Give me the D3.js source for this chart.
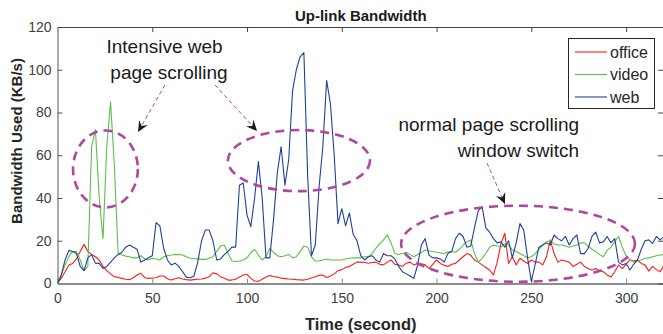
<!DOCTYPE html>
<html>
<head>
<meta charset="utf-8">
<script src="https://cdn.jsdelivr.net/npm/d3@7"></script>
<style>
  html, body { margin: 0; padding: 0; background: #fff; }
  svg { display: block; font-family: "Liberation Sans", Arial, sans-serif; }
  .tick text { fill: #404040; font-size: 14px; }
  .legend text { fill: #262626; font-size: 16px; }
  .note { fill: #1a1a1a; font-size: 19px; }
</style>
</head>
<body>
<div id="chart"></div>
<script>
// sampling step of the traces (seconds)
const step = 2;
const seriesNames = ['office', 'video', 'web'];
const xTicks = [0, 50, 100, 150, 200, 250, 300];
const yTicks = [0, 20, 40, 60, 80, 100, 120];

// office (KB/s), t = 0, 2, 4 ... 320
const office = [
  0, 2.5, 5.5, 8.7, 9.4, 11.5, 15, 18.3, 15, 13.6,
  12.5, 11, 8, 6, 4.5, 3.2, 2.8, 2.4, 2, 1.8,
  2.7, 4, 4.8, 2.7, 2.4, 2.6, 2.7, 3.5, 3.5, 2.2,
  1.6, 2.2, 2.7, 2.1, 1.8, 1.6, 1.8, 2, 2.1, 2.5,
  3.2, 5, 4.5, 3.2, 2.4, 1.6, 1.6, 2, 3, 4,
  4.3, 2.4, 1.2, 1, 2, 3, 3.7, 3.3, 3, 2.5,
  2.3, 2.1, 2, 1.8, 1.7, 1.6, 2, 2.6, 3.2, 3.8,
  4, 2.8, 3.5, 4.5, 6, 6.5, 7.5, 8, 9, 10,
  10, 9.8, 9.5, 9.8, 10, 9, 8.7, 10, 11, 9,
  8.7, 8, 9.5, 10, 8.7, 9.4, 9.2, 8.7, 7, 9,
  11, 9.4, 8.5, 8, 9, 9.4, 11, 12.5, 14, 13.3,
  11, 10, 8.7, 7.5, 6.3, 4, 10, 18.8, 23.5, 9.4,
  12.5, 8.7, 11.8, 10.5, 9.4, 11, 10, 10, 8.7, 12.5,
  20.4, 14, 10, 11, 10.5, 10, 8, 9, 10, 8,
  7, 6.3, 7, 6, 5.5, 4, 3, 5.5, 8.7, 7,
  9, 11, 10.5, 11, 9.4, 8.7, 5.8, 8, 6.5, 5.5,
  8.7
];

// video (KB/s)
const video = [
  0, 4, 8.7, 12.5, 15, 15, 11, 6, 8, 64,
  72, 40, 21, 64, 85, 55, 14, 13.3, 12.8, 12.5,
  12, 12, 13, 11.5, 11, 11.8, 11.5, 11, 12.5, 13,
  13.3, 13.6, 13.5, 13.3, 12.5, 11.8, 11.6, 11.5, 11.3, 11.3,
  11.8, 12.5, 15, 17.5, 18, 14, 10.5, 10.3, 10.5, 11,
  12, 14.5, 16, 13.3, 11, 12.5, 16.5, 14.5, 13, 12.5,
  13, 13.6, 12, 12.5, 15, 17.5, 17, 12.5, 10.5, 10.5,
  11, 11.5, 11, 11, 11, 11, 11.5, 11.8, 12, 12,
  12, 12.5, 12.5, 14, 16.5, 18.5, 20.4, 22.7, 19, 14,
  13.6, 14, 14.6, 13.5, 12.5, 13.6, 14.5, 15.7, 15.3, 15,
  14.6, 14.3, 14, 14.8, 15, 14.6, 16, 18, 19.5, 20.4,
  14, 10, 11.8, 14, 17, 18, 17.5, 17, 18.5, 18,
  15.7, 15, 14, 13, 12, 12.5, 14, 16, 18, 19.5,
  20, 18.5, 18, 18, 17.5, 17, 17.5, 18, 19, 19,
  17.5, 16, 15, 13.5, 12.5, 15.5, 17, 19.5, 22, 17,
  13, 11, 10, 10.5, 11, 11.8, 12, 12.5, 13, 13.3,
  13.6
];

// web (KB/s)
const web = [
  0, 4, 11, 15.5, 15, 14, 8, 6, 12, 13.5,
  9.5, 9.4, 7, 8, 10, 12, 13.6, 14.6, 17, 18,
  17, 16, 10, 11, 12, 13, 28.5, 27, 16.5, 11,
  8.7, 9.5, 8, 5.5, 3, 2.7, 3.5, 10, 20, 25,
  25, 20, 11, 11.5, 13.5, 15, 17, 17, 46, 47,
  32, 26.6, 40, 57, 40, 12, 12, 30, 52, 64,
  46, 58, 90, 100, 106, 108, 50, 13, 18, 45,
  64, 95, 84, 60, 28, 35, 27, 33, 23, 20,
  13, 11, 12.5, 13, 11, 10, 14, 13, 13, 11.5,
  8, 5.5, 4.5, 3.5, 2.4, 8.7, 18, 21, 13.3, 12,
  12, 11.5, 10, 14, 15, 21, 23.5, 22, 17, 17.5,
  26, 34, 36, 26, 24, 21, 19, 19.5, 17, 20,
  12, 19, 28, 25, 12, 1, 9, 17, 18, 19,
  18, 22.7, 21, 20, 22, 18, 21, 22.7, 14, 14,
  16.5, 22, 24, 19, 19.5, 22, 19, 21, 10, 8.7,
  9.4, 6.3, 9, 11, 16, 20, 20.4, 18.8, 22, 20.4,
  22
];

const W = 663, H = 334;
const margin = { top: 27, right: -1, bottom: 50.5, left: 57.5 };
const colors = { office: '#ff1a1a', video: '#5cbf45', web: '#1f3f9e' };
const noteColor = '#b0479f';

const svg = d3.select('#chart').append('svg')
  .attr('width', W)
  .attr('height', H);

const x = d3.scaleLinear().domain([0, 320]).range([margin.left, W - margin.right]);
const y = d3.scaleLinear().domain([0, 120]).range([H - margin.bottom, margin.top]);

const table = { office, video, web };

svg.append('clipPath').attr('id', 'plot-clip')
  .append('rect')
  .attr('x', x(0)).attr('y', y(120))
  .attr('width', x(320) - x(0)).attr('height', y(0) - y(120));

// --- Axes (MATLAB-like box, ticks inside) ---
const xAxis = svg.append('g')
  .attr('class', 'x-axis')
  .attr('transform', `translate(0,${y(0)})`)
  .call(d3.axisBottom(x).tickValues(xTicks).tickSizeInner(-5).tickSizeOuter(0).tickPadding(10));
xAxis.select('.domain').attr('stroke', '#8c8c8c').attr('stroke-width', 2);
xAxis.selectAll('.tick line').attr('stroke', '#8c8c8c');

const yAxis = svg.append('g')
  .attr('class', 'y-axis')
  .attr('transform', `translate(${x(0)},0)`)
  .call(d3.axisLeft(y).tickValues(yTicks).tickSizeInner(-5).tickSizeOuter(0).tickPadding(6));
yAxis.select('.domain').attr('stroke', '#555');
yAxis.selectAll('.tick line').attr('stroke', '#555');
yAxis.selectAll('.tick').filter(d => d === 0).select('line').remove();

// top and right mirrored ticks
const topAxis = svg.append('g')
  .attr('transform', `translate(0,${y(120)})`)
  .call(d3.axisTop(x).tickValues(xTicks).tickSizeInner(-5).tickSizeOuter(0).tickFormat(''));
topAxis.select('.domain').attr('stroke', '#444');
topAxis.selectAll('.tick line').attr('stroke', '#444');
topAxis.selectAll('.tick').filter(d => d === 0).remove();

const rightAxis = svg.append('g')
  .attr('transform', `translate(${x(320) - 1},0)`)
  .call(d3.axisRight(y).tickValues(yTicks).tickSizeInner(-5).tickSizeOuter(0).tickFormat(''));
rightAxis.select('.domain').attr('stroke', '#444');
rightAxis.selectAll('.tick line').attr('stroke', '#444');

// --- Lines ---
const line = d3.line()
  .x((d, i) => x(i * step))
  .y(d => y(d));

const plot = svg.append('g').attr('clip-path', 'url(#plot-clip)');
seriesNames.forEach(name => {
  plot.append('path')
    .datum(table[name])
    .attr('fill', 'none')
    .attr('stroke', colors[name])
    .attr('stroke-width', 1.1)
    .attr('stroke-linejoin', 'round')
    .attr('d', line);
});

// --- Titles ---
svg.append('text')
  .attr('x', (x(0) + x(320)) / 2)
  .attr('y', 20.5)
  .attr('text-anchor', 'middle')
  .attr('font-size', 15)
  .attr('font-weight', 'bold')
  .attr('fill', '#1a1a1a')
  .text('Up-link Bandwidth');

svg.append('text')
  .attr('x', (x(0) + x(320)) / 2)
  .attr('y', 330)
  .attr('text-anchor', 'middle')
  .attr('font-size', 16.5)
  .attr('font-weight', 'bold')
  .attr('fill', '#262626')
  .text('Time (second)');

svg.append('text')
  .attr('transform', 'translate(21.5,141) rotate(-90)')
  .attr('text-anchor', 'middle')
  .attr('font-size', 15)
  .attr('font-weight', 'bold')
  .attr('fill', '#262626')
  .text('Bandwidth Used (KB/s)');

// --- Legend ---
const legend = svg.append('g').attr('class', 'legend');
legend.append('rect')
  .attr('x', 568.5).attr('y', 38.5)
  .attr('width', 86).attr('height', 70)
  .attr('fill', '#fff')
  .attr('stroke', '#262626')
  .attr('stroke-width', 1);
seriesNames.forEach((name, i) => {
  const ly = 52 + i * 22.5;
  legend.append('line')
    .attr('x1', 575).attr('x2', 607)
    .attr('y1', ly).attr('y2', ly)
    .attr('stroke', colors[name])
    .attr('stroke-width', 1.1);
  legend.append('text')
    .attr('x', 610).attr('y', ly + 5.5)
    .text(name);
});

// --- Annotations ---
const defs = svg.append('defs');
defs.append('marker')
  .attr('id', 'head')
  .attr('markerUnits', 'userSpaceOnUse')
  .attr('viewBox', '-12 -6 14 12')
  .attr('refX', 0).attr('refY', 0)
  .attr('markerWidth', 14).attr('markerHeight', 12)
  .attr('orient', 'auto')
  .append('path')
  .attr('d', 'M0,0 L-11,-5 L-7,0 L-11,5 Z')
  .attr('fill', '#1a1a1a');

// ellipses in data units: [cx, cy, rx, ry]
const ellipses = [
  [25.3, 53.6, 17.1, 18],
  [127.4, 57.5, 37.5, 14.3],
  [243, 18.6, 61.7, 17.8]
];
svg.selectAll('.ring')
  .data(ellipses)
  .enter().append('ellipse')
  .attr('class', 'ring')
  .attr('cx', d => x(d[0]))
  .attr('cy', d => y(d[1]))
  .attr('rx', d => x(d[2]) - x(0))
  .attr('ry', d => y(0) - y(d[3]))
  .attr('fill', 'none')
  .attr('stroke', noteColor)
  .attr('stroke-width', 2.6)
  .attr('stroke-dasharray', '9,6');

// arrows in data units: [t1, v1, t2, v2]
const arrows = [
  [56.7, 92.9, 42.5, 70.9],
  [83.1, 92.9, 105.3, 71.3],
  [226.6, 56.4, 236.1, 37.2]
];
svg.selectAll('.arrow')
  .data(arrows)
  .enter().append('line')
  .attr('class', 'arrow')
  .attr('x1', d => x(d[0])).attr('y1', d => y(d[1]))
  .attr('x2', d => x(d[2])).attr('y2', d => y(d[3]))
  .attr('stroke', noteColor)
  .attr('stroke-width', 1)
  .attr('stroke-dasharray', '4,3')
  .attr('marker-end', 'url(#head)');

// notes: [text, t, v, anchor]
const notes = [
  ['Intensive web', 56.5, 107.9, 'middle'],
  ['page scrolling', 58.8, 95.6, 'middle'],
  ['normal page scrolling', 275.2, 71.2, 'end'],
  ['window switch', 275.2, 59.4, 'end']
];
svg.selectAll('.note')
  .data(notes)
  .enter().append('text')
  .attr('class', 'note')
  .attr('x', d => x(d[1]))
  .attr('y', d => y(d[2]))
  .attr('text-anchor', d => d[3])
  .text(d => d[0]);
</script>
</body>
</html>
